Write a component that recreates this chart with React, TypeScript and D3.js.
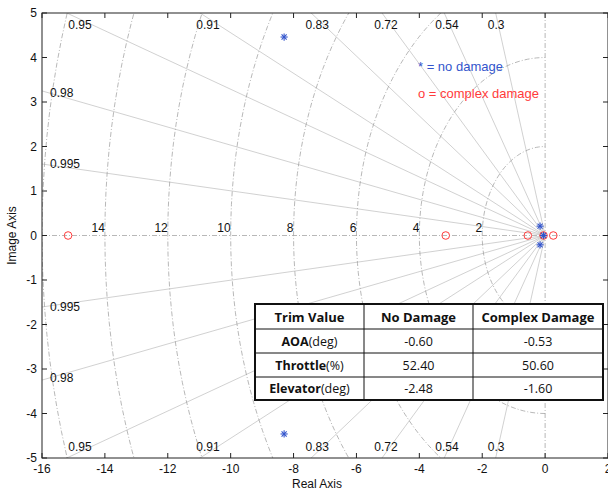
import React from "react";
import { scaleLinear, range } from "d3";

// pole locations
const noDamageRe = [-8.3, -8.3, -0.16, -0.16, -0.05];
const noDamageIm = [4.46, -4.46, 0.21, -0.21, 0];
const complexRe = [-15.17, -3.16, -0.55, -0.05, 0.26];
const complexIm = [0, 0, 0, 0, 0];

// sgrid
const zetas = [0.3, 0.54, 0.72, 0.83, 0.91, 0.95, 0.98, 0.995];
const wns = [2, 4, 6, 8, 10, 12, 14, 16];
const wnLabels = [2, 4, 6, 8, 10, 12, 14];
// label anchor points for damping ratios (data units)
const zetaTopLabels = ["0.95", "0.91", "0.83", "0.72", "0.54", "0.3"];
const zetaTopX = [-14.79, -10.72, -7.25, -5.06, -3.12, -1.56];
const zetaSideLabels = ["0.98", "0.995"];
const zetaSideY = [3.2, 1.6];

const xTicks = range(-16, 3, 2);
const yTicks = range(-5, 6, 1);

// trim table
const tableHeader = ["Trim Value", "No Damage", "Complex Damage"];
const rowNames = ["AOA", "Throttle", "Elevator"];
const rowUnits = ["(deg)", "(%)", "(deg)"];
const noDamageTrim = ["-0.60", "52.40", "-2.48"];
const complexTrim = ["-0.53", "50.60", "-1.60"];

const W = 608;
const H = 493;
const margin = { top: 13, right: 0, bottom: 35, left: 42 };

const BLUE = "#3355cc";
const RED = "#ff3b3b";
const GRID = "#bdbdbd";

const Star = ({ cx, cy }: { cx: number; cy: number }) => {
  const r = 3.6;
  const arms = [0, 45, 90, 135].map((a) => {
    const t = (a * Math.PI) / 180;
    return (
      <line
        key={a}
        x1={cx - r * Math.cos(t)}
        y1={cy - r * Math.sin(t)}
        x2={cx + r * Math.cos(t)}
        y2={cy + r * Math.sin(t)}
        stroke={BLUE}
        strokeWidth={1.1}
      />
    );
  });
  return <g>{arms}</g>;
};

export default function App() {
  const x = scaleLinear().domain([-16, 2]).range([margin.left, 608]);
  const y = scaleLinear().domain([-5, 5]).range([458, margin.top]);
  const x0 = x(-16);
  const x1 = x(2);
  const y0 = y(5);
  const y1 = y(-5);
  const font = "Liberation Sans, Arial, sans-serif";
  const tfont = "'Open Sans', 'Noto Sans', sans-serif";

  // table geometry
  const tX = [255, 364, 473, 603];
  const tY = [304, 329, 353, 377, 400];

  return (
    <svg
      width={W}
      height={H}
      style={{ position: "absolute", left: 0, top: 0, background: "#fff" }}
      fontFamily={font}
    >
      <defs>
        <clipPath id="plot">
          <rect x={x0} y={y0} width={x1 - x0} height={y1 - y0} />
        </clipPath>
      </defs>
      <rect width={W} height={H} fill="#fff" />
      <g clipPath="url(#plot)">
        {zetas.map((z) => {
          const th = Math.acos(z);
          const L = 40;
          return (
            <g key={z}>
              <line x1={x(0)} y1={y(0)} x2={x(-L * Math.cos(th))} y2={y(L * Math.sin(th))} stroke={GRID} strokeWidth={0.7} />
              <line x1={x(0)} y1={y(0)} x2={x(-L * Math.cos(th))} y2={y(-L * Math.sin(th))} stroke={GRID} strokeWidth={0.7} />
            </g>
          );
        })}
        {wns.map((w) => {
          const pts = range(0, 181, 2).map((d) => {
            const t = ((d - 90) * Math.PI) / 180;
            return [x(-w * Math.cos(t)), y(w * Math.sin(t))];
          });
          return (
            <path
              key={w}
              d={"M" + pts.map((p) => p.join(",")).join("L")}
              fill="none"
              stroke="#9a9a9a"
              strokeWidth={0.7}
              strokeDasharray="5,2,1,2"
            />
          );
        })}
        <line x1={x0} x2={x1} y1={y(0)} y2={y(0)} stroke="#9a9a9a" strokeWidth={0.7} strokeDasharray="5,2,1,2" />
        <line x1={x(0)} x2={x(0)} y1={y0} y2={y1} stroke="#9a9a9a" strokeWidth={0.7} strokeDasharray="5,2,1,2" />
      </g>

      {/* grid labels */}
      {wnLabels.map((w) => (
        <text key={w} x={x(-w)} y={y(0) - 4} textAnchor="end" fontSize={12} fill="#111">
          {w}
        </text>
      ))}
      {zetaTopLabels.map((l, i) => (
        <g key={l}>
          <text x={x(zetaTopX[i])} y={y0 + 16} textAnchor="middle" fontSize={12} fill="#111">{l}</text>
          <text x={x(zetaTopX[i])} y={y1 - 7} textAnchor="middle" fontSize={12} fill="#111">{l}</text>
        </g>
      ))}
      {zetaSideLabels.map((l, i) => (
        <g key={l}>
          <text x={x0 + 8} y={y(zetaSideY[i]) + 4} fontSize={12} fill="#111">{l}</text>
          <text x={x0 + 8} y={y(-zetaSideY[i]) + 4} fontSize={12} fill="#111">{l}</text>
        </g>
      ))}

      {/* poles */}
      {complexRe.map((re, i) => (
        <circle key={"c" + i} cx={x(re)} cy={y(complexIm[i])} r={3.8} fill="none" stroke={RED} strokeWidth={1} />
      ))}
      {noDamageRe.map((re, i) => (
        <Star key={"s" + i} cx={x(re)} cy={y(noDamageIm[i])} />
      ))}

      {/* legend */}
      <text x={418} y={71} fontSize={13} fill={BLUE}>* = no damage</text>
      <text x={418} y={98} fontSize={13} fill={RED}>o = complex damage</text>

      {/* axes box */}
      <rect x={x0} y={y0} width={x1 - x0} height={y1 - y0} fill="none" stroke="#222" strokeWidth={1} />
      {xTicks.map((t) => (
        <g key={"xt" + t}>
          <line x1={x(t)} x2={x(t)} y1={y1} y2={y1 - 5} stroke="#222" />
          <line x1={x(t)} x2={x(t)} y1={y0} y2={y0 + 5} stroke="#222" />
          <text x={x(t)} y={y1 + 15} textAnchor="middle" fontSize={12} fill="#111">{t}</text>
        </g>
      ))}
      {yTicks.map((t) => (
        <g key={"yt" + t}>
          <line x1={x0} x2={x0 + 5} y1={y(t)} y2={y(t)} stroke="#222" />
          <line x1={x1} x2={x1 - 5} y1={y(t)} y2={y(t)} stroke="#222" />
          <text x={x0 - 5} y={y(t) + 4} textAnchor="end" fontSize={12} fill="#111">{t}</text>
        </g>
      ))}
      <text x={(x0 + x1) / 2 - 8} y={488} textAnchor="middle" fontSize={12} fill="#111">Real Axis</text>
      <text transform={`translate(16,${(y0 + y1) / 2}) rotate(-90)`} textAnchor="middle" fontSize={12} fill="#111">Image Axis</text>

      {/* trim table */}
      <g fontFamily={tfont} fill="#111">
        <rect x={tX[0]} y={tY[0]} width={tX[3] - tX[0]} height={tY[4] - tY[0]} fill="#fff" />
        {tY.slice(1, 4).map((yy) => (
          <line key={yy} x1={tX[0]} x2={tX[3]} y1={yy} y2={yy} stroke="#111" strokeWidth={1} />
        ))}
        {tX.slice(1, 3).map((xx) => (
          <line key={xx} x1={xx} x2={xx} y1={tY[0]} y2={tY[4]} stroke="#111" strokeWidth={1} />
        ))}
        <rect x={tX[0]} y={tY[0]} width={tX[3] - tX[0]} height={tY[4] - tY[0]} fill="none" stroke="#111" strokeWidth={2} />
        {tableHeader.map((h, i) => (
          <text key={h} x={(tX[i] + tX[i + 1]) / 2} y={(tY[0] + tY[1]) / 2 + 5} textAnchor="middle" fontSize={13} fontWeight="bold">
            {h}
          </text>
        ))}
        {rowNames.map((n, i) => {
          const cy = (tY[i + 1] + tY[i + 2]) / 2 + 4.5;
          return (
            <g key={n}>
              <text x={(tX[0] + tX[1]) / 2} y={cy} textAnchor="middle" fontSize={12.5}>
                <tspan fontWeight="bold">{n}</tspan>
                <tspan>{rowUnits[i]}</tspan>
              </text>
              <text x={(tX[1] + tX[2]) / 2} y={cy} textAnchor="middle" fontSize={12.5}>{noDamageTrim[i]}</text>
              <text x={(tX[2] + tX[3]) / 2} y={cy} textAnchor="middle" fontSize={12.5}>{complexTrim[i]}</text>
            </g>
          );
        })}
      </g>
    </svg>
  );
}
